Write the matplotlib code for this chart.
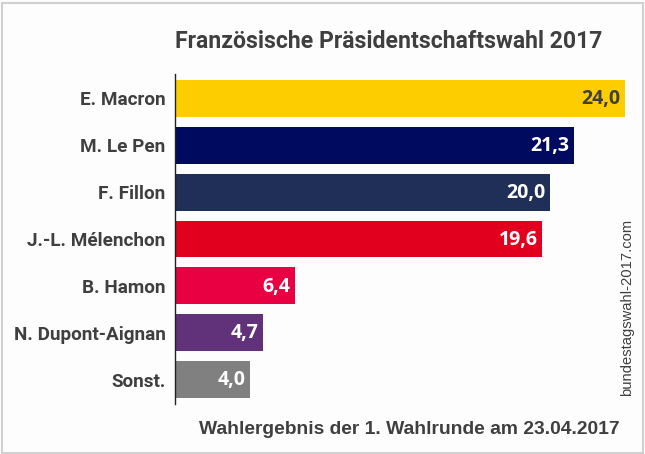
from matplotlib import pyplot as plt
from matplotlib.patches import Rectangle

W, H = 645, 454

kandidaten = ["E. Macron", "M. Le Pen", "F. Fillon", "J.-L. Mélenchon", "B. Hamon", "N. Dupont-Aignan", "Sonst."]
werte = [24.0, 21.3, 20.0, 19.6, 6.4, 4.7, 4.0]
farben = ["#fdcd00", "#000a5e", "#1f2f57", "#e2001f", "#e80042", "#61327a", "#808080"]
wert_farben = ["#3f3f3f", "white", "white", "white", "white", "white", "white"]

textfarbe = "#3f3f3f"

fig = plt.figure(figsize=(W / 100, H / 100), dpi=100, facecolor="#fdfdfd")
fig.add_artist(Rectangle((1.5 / W, 1.5 / H), (W - 3.5) / W, (H - 4) / H, transform=fig.transFigure,
                         fill=False, edgecolor="#d0d0d0", linewidth=1.5))

ax = fig.add_axes([174.5 / W, (H - 404) / H, 450 / W, 330 / H])
ax.set_facecolor("none")

pos = list(range(len(werte)))
ax.barh(pos, werte, height=0.79, color=farben)
ax.set_xlim(0, 24)
ax.set_ylim(6.523, -0.523)

for s in ["top", "right", "bottom"]:
    ax.spines[s].set_visible(False)
ax.spines["left"].set_color("#222222")
ax.spines["left"].set_linewidth(1)
ax.set_xticks([])
ax.set_yticks(pos)
ax.set_yticklabels(kandidaten, fontfamily="Roboto", fontweight="bold", fontsize=13.6, color=textfarbe)
ax.tick_params(axis="y", length=0, pad=6.5)

for p, w, c in zip(pos, werte, wert_farben):
    ax.annotate(f"{w:.1f}".replace(".", ","), (w, p), xytext=(-3, -0.5), textcoords="offset points",
                ha="right", va="center", fontfamily="Open Sans", fontweight="bold", fontsize=14, color=c)

fig.text(175 / W, (H - 42) / H, "Französische Präsidentschaftswahl 2017", fontfamily="Roboto",
         fontweight="bold", fontsize=16.6, color=textfarbe, ha="left", va="center")
fig.text(620 / W, (H - 430) / H, "Wahlergebnis der 1. Wahlrunde am 23.04.2017", fontfamily="Liberation Sans",
         fontweight="bold", fontsize=13.9, color=textfarbe, ha="right", va="center")
fig.text(627 / W, (H - 307.5) / H, "bundestagswahl-2017.com", fontfamily="Liberation Sans", fontsize=10.6,
         color=textfarbe, rotation=90, ha="center", va="center")

fig.savefig("out.png", dpi=100, facecolor=fig.get_facecolor())
